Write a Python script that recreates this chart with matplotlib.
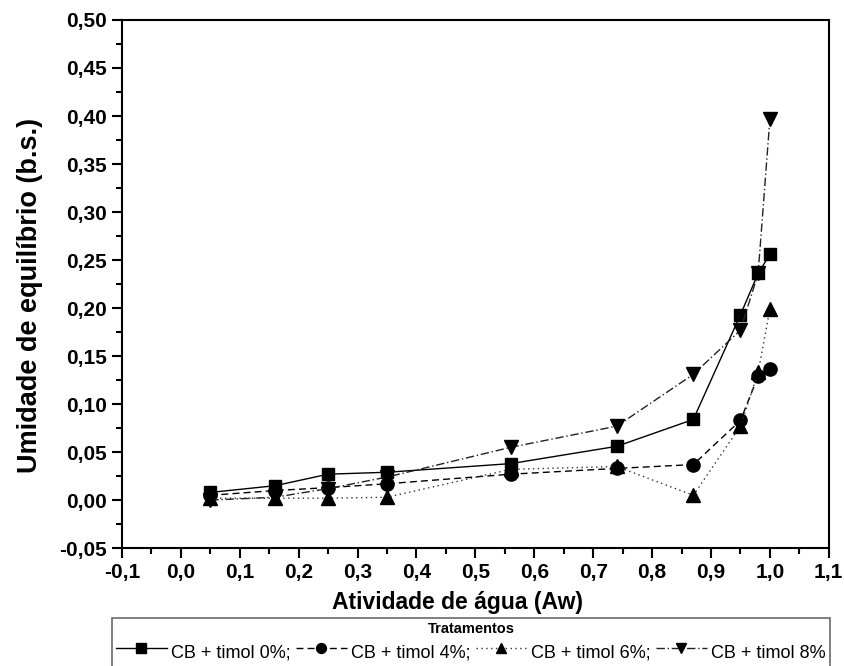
import matplotlib
matplotlib.use("Agg")
import matplotlib.pyplot as plt
from matplotlib.ticker import MultipleLocator, FuncFormatter

plt.rcParams['font.family'] = ['Liberation Sans', 'DejaVu Sans']

# Water activity levels
aw = [0.05, 0.16, 0.25, 0.35, 0.56, 0.74, 0.87, 0.95, 0.98, 1.00]

# Equilibrium moisture (dry basis) per treatment
timol_0 = [0.008, 0.015, 0.027, 0.029, 0.038, 0.056, 0.084, 0.193, 0.236, 0.256]
timol_4 = [0.005, 0.010, 0.013, 0.017, 0.027, 0.033, 0.037, 0.083, 0.129, 0.137]
timol_6 = [0.002, 0.002, 0.002, 0.003, 0.032, 0.035, 0.005, 0.077, 0.133, 0.199]
timol_8 = [0.000, 0.003, 0.012, 0.024, 0.055, 0.077, 0.131, 0.177, 0.236, 0.397]

labels = ["CB + timol 0%;", "CB + timol 4%;", "CB + timol 6%;", "CB + timol 8%"]

fig = plt.figure(figsize=(8.44, 6.66), dpi=100)
ax = fig.add_axes([0.1445, 0.177, 0.8375, 0.793])

styles = [
    dict(ls='-', marker='s', color='black', lw=1.0, ms=9),
    dict(ls=(0, (5, 3)), marker='o', color='black', lw=1.0, ms=9.5),
    dict(ls=(0, (1, 2.5)), marker='^', color='#333333', lw=1.0, ms=10.5, mfc='black', mec='black'),
    dict(ls=(0, (6, 2, 1, 2)), marker='v', color='#222222', lw=1.0, ms=10.5, mfc='black', mec='black'),
]
series = [timol_0, timol_4, timol_6, timol_8]
handles = []
for ys, st, lab in zip(series, styles, labels):
    h, = ax.plot(aw, ys, label=lab, **st)
    handles.append(h)

ax.set_xlim(-0.1, 1.1)
ax.set_ylim(-0.05, 0.50)

ax.xaxis.set_major_locator(MultipleLocator(0.1))
ax.xaxis.set_minor_locator(MultipleLocator(0.05))
ax.yaxis.set_major_locator(MultipleLocator(0.05))
ax.yaxis.set_minor_locator(MultipleLocator(0.025))

ax.xaxis.set_major_formatter(FuncFormatter(lambda v, p: f"{v:.1f}".replace('.', ',').replace('-0,0', '0,0')))
ax.yaxis.set_major_formatter(FuncFormatter(lambda v, p: f"{v:.2f}".replace('.', ',').replace('-0,00', '0,00')))

for s in ax.spines.values():
    s.set_linewidth(1.5)

ax.tick_params(which='major', direction='out', length=7, width=1.5,
               labelsize=15, top=False, right=False)
ax.tick_params(which='minor', direction='out', length=4, width=1.5,
               top=False, right=False)
for t in ax.get_xticklabels() + ax.get_yticklabels():
    t.set_fontweight('bold')

ax.set_xlabel("Atividade de água (Aw)", fontsize=16.5, fontweight='bold')
ax.xaxis.set_label_coords(0.475, -0.082)
ax.set_ylabel("Umidade de equilíbrio (b.s.)", fontsize=19.5, fontweight='bold')
ax.yaxis.set_label_coords(-0.112, 0.479)

leg = fig.legend(handles=handles, labels=labels, loc='upper center',
                 bbox_to_anchor=(0.558, 1 - 618 / 666), borderaxespad=0, ncol=4,
                 title="Tratamentos", title_fontproperties={'weight': 'bold', 'size': 10.5},
                 fontsize=13, frameon=True, fancybox=False, edgecolor='#444444',
                 handlelength=2.8, handleheight=1.75, handletextpad=0.25, columnspacing=0.3,
                 borderpad=0.2, labelspacing=0.2, markerscale=0.75)
leg.get_frame().set_linewidth(1.2)

fig.savefig("out.png", dpi=100)
